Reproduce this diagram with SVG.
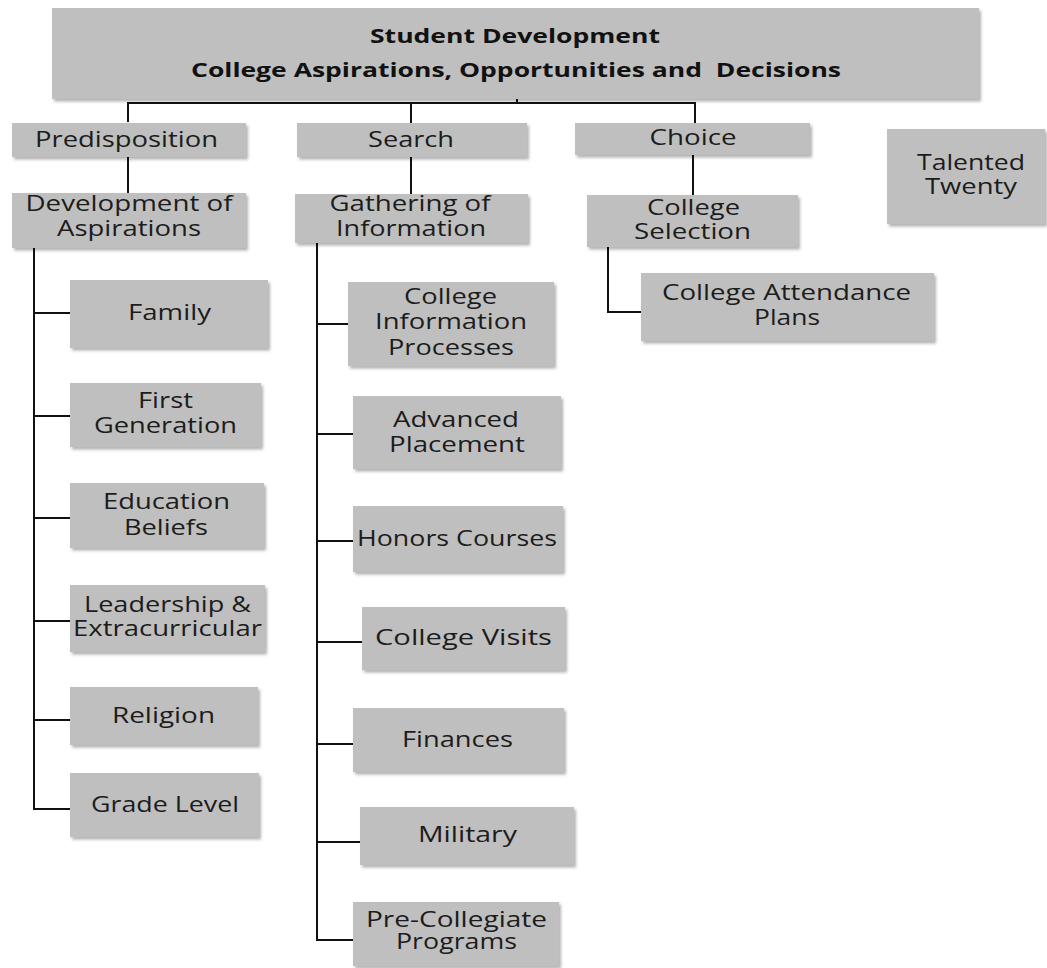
<svg xmlns="http://www.w3.org/2000/svg" width="1047" height="968" viewBox="0 0 1047 968">
<defs>
<filter id="sh" x="-5%" y="-10%" width="115%" height="130%">
<feDropShadow dx="2" dy="2.5" stdDeviation="1.5" flood-color="#000" flood-opacity="0.3"/>
</filter>
</defs>
<style>
.box{fill:#bfbfbf;filter:url(#sh)}
.t{font-family:"Open Sans","Liberation Sans",sans-serif;font-size:21px;fill:#1c1c1c;text-anchor:middle}
.tb{font-family:"Open Sans","Liberation Sans",sans-serif;font-size:20px;font-weight:bold;fill:#111;text-anchor:middle}
.c{stroke:#111;stroke-width:2;fill:none}
</style>
<rect width="1047" height="968" fill="#fff"/>
<g id="connectors">
<path class="c" d="M128,122 V103 H695 V123"/>
<path class="c" d="M411,103 V123"/>
<path class="c" d="M517,99 V103" stroke-width="3"/>
<path class="c" d="M128,157 V193"/>
<path class="c" d="M411,157 V194"/>
<path class="c" d="M693,155 V195"/>
<path class="c" d="M608,247 V312 H641"/>
<path class="c" d="M34,248 V809 H70"/>
<path class="c" d="M34,313 H70 M34,416 H70 M34,518 H70 M34,621 H70 M34,720 H70"/>
<path class="c" d="M317,243 V940 H353"/>
<path class="c" d="M317,324 H348 M317,434 H353 M317,541 H353 M317,642 H362 M317,744 H353 M317,842 H360"/>
</g>
<g id="n-top"><rect class="box" x="52" y="8" width="927" height="91"/>
<text class="tb" x="515" y="43" textLength="290" lengthAdjust="spacingAndGlyphs">Student Development</text>
<text class="tb" x="516" y="77" textLength="650" lengthAdjust="spacingAndGlyphs" xml:space="preserve">College Aspirations, Opportunities and  Decisions</text></g>
<g id="n-predisposition"><rect class="box" x="12" y="123" width="234" height="34"/>
<text class="t" x="126.5" y="147" textLength="183" lengthAdjust="spacingAndGlyphs">Predisposition</text></g>
<g id="n-search"><rect class="box" x="297" y="123" width="230" height="34"/>
<text class="t" x="411" y="147" textLength="86" lengthAdjust="spacingAndGlyphs">Search</text></g>
<g id="n-choice"><rect class="box" x="575" y="123" width="235" height="32"/>
<text class="t" x="693" y="145" textLength="87" lengthAdjust="spacingAndGlyphs">Choice</text></g>
<g id="n-talented"><rect class="box" x="887" y="129" width="158" height="95"/>
<text class="t" x="971" y="170" textLength="108" lengthAdjust="spacingAndGlyphs">Talented</text>
<text class="t" x="971" y="194" textLength="92" lengthAdjust="spacingAndGlyphs">Twenty</text></g>
<g id="n-development"><rect class="box" x="12" y="193" width="234" height="55"/>
<text class="t" x="129" y="211" textLength="207" lengthAdjust="spacingAndGlyphs">Development of</text>
<text class="t" x="129" y="236" textLength="144" lengthAdjust="spacingAndGlyphs">Aspirations</text></g>
<g id="n-gathering"><rect class="box" x="295" y="194" width="233" height="49"/>
<text class="t" x="410" y="211" textLength="161" lengthAdjust="spacingAndGlyphs">Gathering of</text>
<text class="t" x="411" y="236" textLength="150" lengthAdjust="spacingAndGlyphs">Information</text></g>
<g id="n-selection"><rect class="box" x="587" y="195" width="211" height="52"/>
<text class="t" x="693.5" y="215" textLength="93" lengthAdjust="spacingAndGlyphs">College</text>
<text class="t" x="692.5" y="239" textLength="117" lengthAdjust="spacingAndGlyphs">Selection</text></g>
<g id="n-attendance"><rect class="box" x="641" y="273" width="293" height="68"/>
<text class="t" x="786.5" y="300" textLength="249" lengthAdjust="spacingAndGlyphs">College Attendance</text>
<text class="t" x="787" y="325" textLength="66" lengthAdjust="spacingAndGlyphs">Plans</text></g>
<g id="n-family"><rect class="box" x="70" y="280" width="198" height="68"/>
<text class="t" x="169.5" y="320" textLength="83" lengthAdjust="spacingAndGlyphs">Family</text></g>
<g id="n-firstgen"><rect class="box" x="70" y="383" width="191" height="64"/>
<text class="t" x="165.5" y="408" textLength="55" lengthAdjust="spacingAndGlyphs">First</text>
<text class="t" x="165.5" y="433" textLength="143" lengthAdjust="spacingAndGlyphs">Generation</text></g>
<g id="n-education"><rect class="box" x="70" y="483" width="194" height="65"/>
<text class="t" x="166.5" y="509" textLength="127" lengthAdjust="spacingAndGlyphs">Education</text>
<text class="t" x="166" y="535" textLength="84" lengthAdjust="spacingAndGlyphs">Beliefs</text></g>
<g id="n-leadership"><rect class="box" x="70" y="585" width="195" height="67"/>
<text class="t" x="167.5" y="612" textLength="167" lengthAdjust="spacingAndGlyphs">Leadership &amp;</text>
<text class="t" x="167.5" y="636" textLength="189" lengthAdjust="spacingAndGlyphs">Extracurricular</text></g>
<g id="n-religion"><rect class="box" x="70" y="687" width="188" height="58"/>
<text class="t" x="163.5" y="723" textLength="103" lengthAdjust="spacingAndGlyphs">Religion</text></g>
<g id="n-grade"><rect class="box" x="70" y="773" width="189" height="64"/>
<text class="t" x="165" y="812" textLength="148" lengthAdjust="spacingAndGlyphs">Grade Level</text></g>
<g id="n-cip"><rect class="box" x="348" y="282" width="206" height="84"/>
<text class="t" x="450.5" y="304" textLength="93" lengthAdjust="spacingAndGlyphs">College</text>
<text class="t" x="451" y="329" textLength="152" lengthAdjust="spacingAndGlyphs">Information</text>
<text class="t" x="451" y="355" textLength="126" lengthAdjust="spacingAndGlyphs">Processes</text></g>
<g id="n-advanced"><rect class="box" x="353" y="396" width="208" height="73"/>
<text class="t" x="456" y="427" textLength="126" lengthAdjust="spacingAndGlyphs">Advanced</text>
<text class="t" x="457" y="452" textLength="136" lengthAdjust="spacingAndGlyphs">Placement</text></g>
<g id="n-honors"><rect class="box" x="353" y="506" width="210" height="66"/>
<text class="t" x="457" y="546" textLength="200" lengthAdjust="spacingAndGlyphs">Honors Courses</text></g>
<g id="n-visits"><rect class="box" x="362" y="607" width="203" height="63"/>
<text class="t" x="463.5" y="645" textLength="177" lengthAdjust="spacingAndGlyphs">College Visits</text></g>
<g id="n-finances"><rect class="box" x="353" y="708" width="211" height="64"/>
<text class="t" x="457.5" y="747" textLength="111" lengthAdjust="spacingAndGlyphs">Finances</text></g>
<g id="n-military"><rect class="box" x="360" y="807" width="214" height="58"/>
<text class="t" x="467.5" y="842" textLength="99" lengthAdjust="spacingAndGlyphs">Military</text></g>
<g id="n-precollegiate"><rect class="box" x="353" y="902" width="206" height="64"/>
<text class="t" x="456.5" y="927" textLength="181" lengthAdjust="spacingAndGlyphs">Pre-Collegiate</text>
<text class="t" x="456.5" y="949" textLength="121" lengthAdjust="spacingAndGlyphs">Programs</text></g>
</svg>
